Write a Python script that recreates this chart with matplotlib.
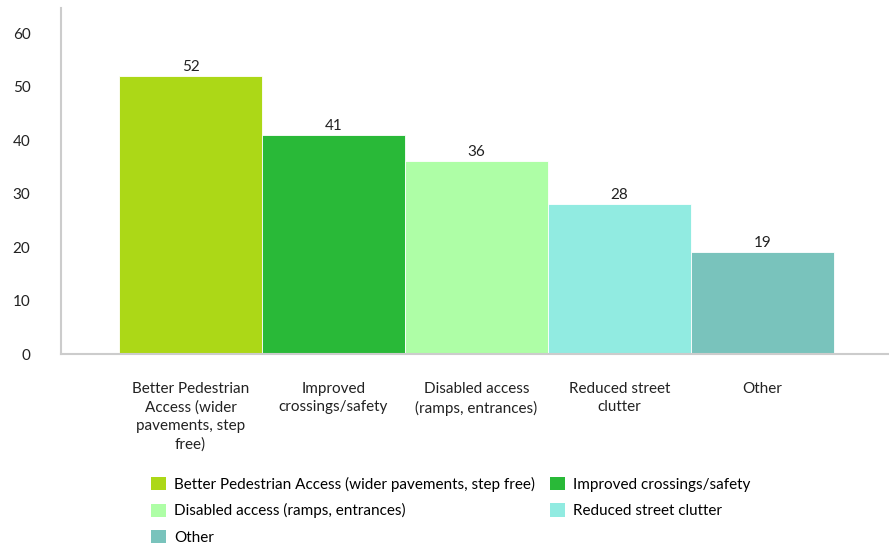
import matplotlib
matplotlib.use("Agg")
import matplotlib.pyplot as plt
from matplotlib.patches import Patch

categories = [
    "Better Pedestrian Access (wider pavements, step free)",
    "Improved crossings/safety",
    "Disabled access (ramps, entrances)",
    "Reduced street clutter",
    "Other",
]
tick_labels = [
    "Better Pedestrian\nAccess (wider\npavements, step\nfree)",
    "Improved\ncrossings/safety",
    "Disabled access\n(ramps, entrances)",
    "Reduced street\nclutter",
    "Other",
]
values = [52, 41, 36, 28, 19]
colors = ["#acd817", "#29b938", "#aefea6", "#91ebe1", "#79c3bc"]

plt.rcParams['font.family'] = ['Lato', 'DejaVu Sans']

fig = plt.figure(figsize=(8.89, 5.47), dpi=100)
ax = fig.add_axes([61 / 889, 1 - 354 / 547, 828 / 889, 346 / 547])

x = list(range(len(values)))
bars = ax.bar(x, values, width=1.0, color=colors, edgecolor='white', linewidth=0.6)
for b, v in zip(bars, values):
    ax.annotate(str(v), (b.get_x() + b.get_width() / 2, v), xytext=(0, 1.5),
                textcoords='offset points', ha='center', va='bottom',
                fontsize=11, color='#222222')

ax.set_xlim(-0.906, 4.885)
ax.set_ylim(0, 64.7)
ax.set_yticks([0, 10, 20, 30, 40, 50, 60])
ax.set_xticks(x)
ax.set_xticklabels(tick_labels, fontsize=11, color='#222222', linespacing=1.4)
ax.tick_params(axis='both', length=0, labelsize=11, labelcolor='#222222')
ax.tick_params(axis='x', pad=20)
ax.tick_params(axis='y', pad=22)

for s in ['top', 'right']:
    ax.spines[s].set_visible(False)
for s in ['left', 'bottom']:
    ax.spines[s].set_color('#cccccc')
    ax.spines[s].set_linewidth(1.5)

handles = [Patch(facecolor=c, label=l) for c, l in zip(colors, categories)]
order = [0, 2, 4, 1, 3]
fig.legend([handles[i] for i in order], [categories[i] for i in order],
           ncol=2, loc='upper left', bbox_to_anchor=(151 / 889, 1 - 477 / 547),
           frameon=False, fontsize=11, handlelength=0.95, handleheight=0.95,
           handletextpad=0.55, columnspacing=1.0, labelspacing=0.74,
           borderaxespad=0, borderpad=0)

fig.savefig("out.png", dpi=100)
